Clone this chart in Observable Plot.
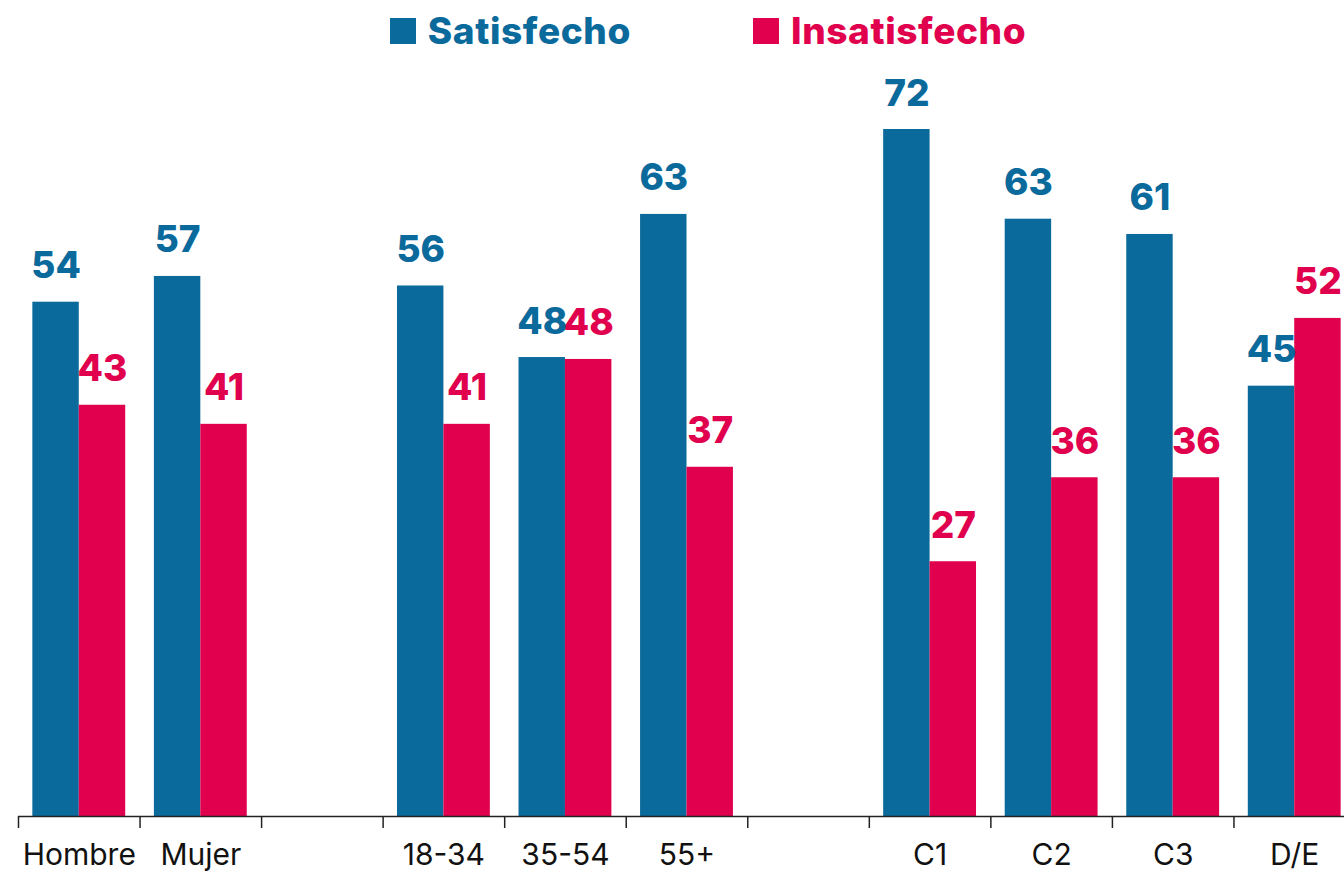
<!DOCTYPE html>
<html>
<head>
<meta charset="utf-8">
<script src="https://cdn.jsdelivr.net/npm/d3@7"></script>
<script src="https://cdn.jsdelivr.net/npm/@observablehq/plot@0.6"></script>
<style>
  html, body { margin: 0; padding: 0; background: #ffffff; overflow: hidden; }
  #legend {
    height: 60px; display: flex; align-items: center; justify-content: center;
    padding-left: 72px; box-sizing: border-box;
    font-family: Inter, sans-serif; font-weight: 800; font-size: 37px; letter-spacing: 0.6px;
  }
  .item { display: flex; align-items: center; }
  .item + .item { margin-left: 122px; }
  .sw { width: 26px; height: 26px; margin-right: 12px; margin-top: 2px; }
</style>
</head>
<body>
<div id="legend"></div>
<div id="chart"></div>
<script>
// ---- data ----
const categories = ["Hombre", "Mujer", "", "18-34", "35-54", "55+", " ", "C1", "C2", "C3", "D/E"];
const groups = ["Hombre", "Mujer", "18-34", "35-54", "55+", "C1", "C2", "C3", "D/E"];
const satisfecho = [53.9, 56.6, 55.6, 48.1, 63.1, 72.0, 62.6, 61.0, 45.1];
const insatisfecho = [43.1, 41.1, 41.1, 47.9, 36.6, 26.7, 35.5, 35.5, 52.2];
const seriesNames = ["Satisfecho", "Insatisfecho"];
const seriesColors = ["#0b6a9c", "#e0004d"];

// ---- legend ----
const legend = document.getElementById("legend");
seriesNames.forEach((name, i) => {
  const it = document.createElement("div");
  it.className = "item";
  it.style.color = seriesColors[i];
  const sw = document.createElement("div");
  sw.className = "sw";
  sw.style.background = seriesColors[i];
  const tx = document.createElement("span");
  tx.textContent = name;
  it.appendChild(sw); it.appendChild(tx);
  legend.appendChild(it);
});

// ---- chart ----
const width = 1344, height = 813;
const marginLeft = 18, marginRight = -11, marginTop = 69, marginBottom = 57;
const step = (width - marginLeft - marginRight) / categories.length;
const inset = step * 0.118;
const half = step / 2;
const off = (half - inset) / 2;

const sat = groups.map((g, i) => ({cat: g, value: satisfecho[i]}));
const ins = groups.map((g, i) => ({cat: g, value: insatisfecho[i]}));

const labelFont = {fontSize: 37, fontWeight: 800};

const chart = Plot.plot({
  width, height, marginLeft, marginRight, marginTop, marginBottom,
  style: {fontFamily: "Inter, sans-serif", background: "#ffffff", overflow: "visible"},
  x: {domain: categories, padding: 0, round: false, axis: null},
  y: {domain: [0, 72], axis: null},
  marks: [
    Plot.barY(sat, {x: "cat", y: "value", fill: seriesColors[0], insetLeft: inset, insetRight: half}),
    Plot.barY(ins, {x: "cat", y: "value", fill: seriesColors[1], insetLeft: half, insetRight: inset}),
    Plot.text(sat, {x: "cat", y: "value", text: d => String(Math.round(d.value)), fill: seriesColors[0],
      dx: -off, dy: -24, lineAnchor: "bottom", ...labelFont}),
    Plot.text(ins, {x: "cat", y: "value", text: d => String(Math.round(d.value)), fill: seriesColors[1],
      dx: off, dy: -24, lineAnchor: "bottom", ...labelFont}),
    Plot.ruleY([0], {stroke: "#222", strokeWidth: 1.5}),
    Plot.axisX({tickSize: 12, tickFormat: () => "", dx: -half, stroke: "#222", strokeWidth: 1.5, label: null}),
    Plot.axisX({tickSize: 0, tickPadding: 27, fontSize: 30, fill: "#111", label: null,
      style: {letterSpacing: "2.2px"}})
  ]
});
document.getElementById("chart").appendChild(chart);
</script>
</body>
</html>
